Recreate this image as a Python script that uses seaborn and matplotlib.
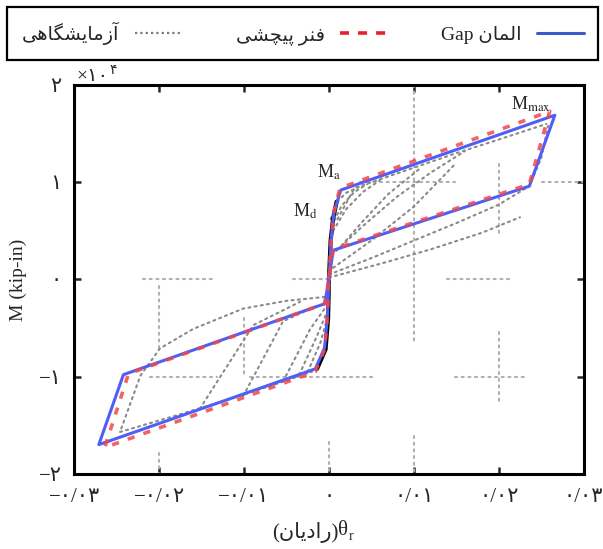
import numpy as np
import pandas as pd
import matplotlib
matplotlib.use("Agg")
from matplotlib import pyplot as plt
from matplotlib.lines import Line2D
import seaborn as sns

# rotation theta_r (rad) and moment M (x10^4 kip-in)

# Gap element model (blue)
gap_theta = [0.0, 0.0003, 0.0006, 0.0014, 0.0266, 0.0236, 0.0005, 0.0,
             -0.0005, -0.0242, -0.0271, -0.0016, -0.0005, -0.0002, 0.0]
gap_m = [0.0, 0.45, 0.70, 0.92, 1.69, 0.96, 0.30, 0.0,
         -0.25, -0.98, -1.70, -0.92, -0.70, -0.40, 0.0]

# torsional spring model (red dashed)
spring_theta = [0.0, 0.0003, 0.0006, 0.0013, 0.0260, 0.0236, 0.0005, 0.0,
                -0.0005, -0.0236, -0.0264, -0.0016, -0.0005, -0.0002, 0.0]
spring_m = [0.0, 0.45, 0.70, 0.94, 1.73, 0.98, 0.31, 0.0,
            -0.25, -0.97, -1.73, -0.95, -0.72, -0.40, 0.0]

# experimental loops (grey dotted)
exp_theta = [
    [0.0, 0.005, 0.010, 0.015, 0.020, 0.0236, 0.0250, 0.0258],
    [0.0010, 0.003, 0.006, 0.010, 0.015, 0.020, 0.0256],
    [0.0, 0.006, 0.012, 0.018, 0.0225],
    [0.0003, 0.004, 0.008, 0.012, 0.0160],
    [0.0005, 0.005, 0.010, 0.0150],
    [0.0015, 0.004, 0.007, 0.0107],
    [0.0005, 0.002, 0.004, 0.006],
    [0.0003, 0.0015, 0.003, 0.0045],
    [0.0002, 0.001, 0.002, 0.0035],
    [-0.0005, -0.005, -0.0101, -0.016, -0.0199, -0.0222, -0.0246],
    [-0.0246, -0.018, -0.012, -0.006, -0.002],
    [-0.0152, -0.0089, -0.0034],
    [-0.0101, -0.0054, -0.0014],
    [-0.0054, -0.0022, -0.0005],
    [-0.0035, -0.0015, -0.0003],
    [-0.0025, -0.0010, -0.0002],
]
exp_m = [
    [0.05, 0.22, 0.40, 0.58, 0.77, 0.96, 1.25, 1.58],
    [0.62, 0.94, 1.03, 1.15, 1.30, 1.44, 1.60],
    [0.02, 0.16, 0.31, 0.48, 0.64],
    [0.25, 0.55, 0.85, 1.10, 1.32],
    [0.12, 0.40, 0.75, 1.20],
    [0.35, 0.60, 0.88, 1.14],
    [0.50, 0.72, 0.90, 1.02],
    [0.55, 0.76, 0.90, 0.98],
    [0.62, 0.80, 0.89, 0.95],
    [-0.18, -0.22, -0.30, -0.51, -0.71, -0.99, -1.57],
    [-1.57, -1.40, -1.24, -1.07, -0.95],
    [-1.33, -0.47, -0.23],
    [-1.20, -0.43, -0.27],
    [-1.05, -0.51, -0.30],
    [-0.98, -0.60, -0.35],
    [-0.95, -0.65, -0.40],
]

# dense black core of the test data near theta = 0
core_theta = [-0.0014, -0.0004, -0.0001, 0.0, 0.0002, 0.0005, 0.0009]
core_m = [-0.92, -0.72, -0.40, 0.0, 0.40, 0.63, 0.80]

x_ticks = [-0.03, -0.02, -0.01, 0.0, 0.01, 0.02, 0.03]
x_tick_labels = ['−۰/۰۳', '−۰/۰۲', '−۰/۰۱', '۰', '۰/۰۱', '۰/۰۲', '۰/۰۳']
y_ticks = [-2, -1, 0, 1, 2]
y_tick_labels = ['−۲', '−۱', '۰', '۱', '۲']

# labels (Persian, written in visual order with presentation forms)
lab_exp = "\uFEF0\uFEEB\uFE8E\uFB95\uFEB8\uFEF3\uFE8E\uFEE3\uFEAF\uFE81"
lab_spring = "\uFEF0\uFEB8\uFB7D\uFEF4\uFB58 \uFEAE\uFEE8\uFED3"
lab_gap = "Gap \uFEE5\uFE8E\uFEE4\uFEDF\uFE8D"
lab_radian = "(\uFEE5\uFE8E\uFEF3\uFEA9\uFE8D\uFEAD)"

sns.set_style("ticks")
plt.rcParams['font.family'] = ['Liberation Serif', 'DejaVu Sans']
plt.rcParams['mathtext.fontset'] = 'stix'
fam = ['Liberation Serif', 'DejaVu Sans']

fig = plt.figure(figsize=(6.03, 5.49), dpi=100)
ax = fig.add_axes([0.123, 0.137, 0.845, 0.708])

# broken dotted grid pieces seen in the picture
grid_v = [(-0.02, -0.07, -0.74), (-0.02, -1.79, -2.0), (-0.01, -0.40, -1.0),
          (0.0, -1.67, -2.0), (0.01, 2.0, -0.63), (0.01, -1.61, -2.0),
          (0.02, 1.19, 0.45), (0.02, -0.54, -1.28)]
grid_h = [(0.0, -0.0219, -0.0138), (0.0, -0.0042, 0.0), (0.0, 0.0139, 0.0216),
          (-1.0, -0.0211, -0.0132), (-1.0, -0.0093, 0.0052), (-1.0, 0.0148, 0.0234),
          (1.0, 0.0036, 0.0148), (1.0, 0.0251, 0.03)]
for gx, g0, g1 in grid_v:
    ax.plot([gx, gx], [g0, g1], color='#b0b0b0', lw=1.5, ls=(0, (1, 2.2)),
            dash_capstyle='round', zorder=1)
for gy, g0, g1 in grid_h:
    ax.plot([g0, g1], [gy, gy], color='#b0b0b0', lw=1.5, ls=(0, (1, 2.2)),
            dash_capstyle='round', zorder=1)

# experimental data
rows = []
for i, (tt, mm) in enumerate(zip(exp_theta, exp_m)):
    for t, m in zip(tt, mm):
        rows.append({'curve': i, 'theta': t, 'M': m})
df_exp = pd.DataFrame(rows)
sns.lineplot(data=df_exp, x='theta', y='M', units='curve', estimator=None,
             sort=False, color='#8a8a8a', lw=1.5, ax=ax, zorder=2,
             linestyle=(0, (1, 2.0)), dash_capstyle='round')

df_core = pd.DataFrame({'theta': core_theta, 'M': core_m})
sns.lineplot(data=df_core, x='theta', y='M', sort=False, estimator=None,
             color='black', lw=3, ax=ax, zorder=3)

df_gap = pd.DataFrame({'theta': gap_theta, 'M': gap_m})
sns.lineplot(data=df_gap, x='theta', y='M', sort=False, estimator=None,
             color='#4f5ff5', lw=2.2, ax=ax, zorder=4)

df_spring = pd.DataFrame({'theta': spring_theta, 'M': spring_m})
sns.lineplot(data=df_spring, x='theta', y='M', sort=False, estimator=None,
             color='#f04848', lw=2.6, ax=ax, zorder=5, alpha=0.85,
             linestyle=(0, (2.0, 2.6)))

ax.set_xlim(-0.03, 0.03)
ax.set_ylim(-2, 2)
ax.set_xticks(x_ticks)
ax.set_xticklabels(x_tick_labels, fontsize=15, family=fam)
ax.set_yticks(y_ticks)
ax.set_yticklabels(y_tick_labels, fontsize=15, family=fam)
ax.tick_params(axis='x', direction='in', length=5, width=1.8, top=True, pad=10)
ax.tick_params(axis='y', direction='in', length=5, width=1.8, right=True, pad=9)
for s in ax.spines.values():
    s.set_linewidth(2.2)
    s.set_color('black')
ax.set_xlabel('')
ax.set_ylabel('')

# annotations
ax.text(0.0238, 1.80, r'M$_{\rm max}$', fontsize=13, ha='center', va='center')
ax.text(0.0000, 1.10, r'M$_{\rm a}$', fontsize=13, ha='center', va='center')
ax.text(-0.0028, 0.70, r'M$_{\rm d}$', fontsize=13, ha='center', va='center')

# offset text x10^4
fig.text(0.127, 0.846, '×۱۰', fontsize=14, family=fam, ha='left', va='bottom')
fig.text(0.181, 0.860, '۴', fontsize=10, family=fam, ha='left', va='bottom')

# axis labels
fig.text(0.03, 0.49, 'M (kip-in)', rotation=90, fontsize=14, family=fam,
         ha='center', va='center')
fig.text(0.561, 0.030, lab_radian, fontsize=15, family=fam, ha='right', va='center')
fig.text(0.561, 0.034, 'θ', fontsize=15, family=fam, ha='left', va='center')
fig.text(0.579, 0.022, 'r', fontsize=10, family=fam, ha='left', va='center')

# legend
handles = [Line2D([], [], color='#7a7a7a', lw=1.6, ls=(0, (1, 1.4))),
           Line2D([], [], color='#e8202a', lw=2.6, ls=(0, (2.5, 2.5))),
           Line2D([], [], color='#3a5bc7', lw=2.2)]
leg = fig.legend(handles, [lab_exp, lab_spring, lab_gap], loc='upper left',
                 bbox_to_anchor=(0.012, 0.987, 0.98, 0.0), mode='expand',
                 ncol=3, markerfirst=False, fancybox=False, edgecolor='black',
                 prop={'family': fam, 'size': 14}, handlelength=2.4,
                 borderaxespad=0, borderpad=0.75, framealpha=1)
leg.get_frame().set_linewidth(1.6)

fig.savefig('out.png', dpi=100)
